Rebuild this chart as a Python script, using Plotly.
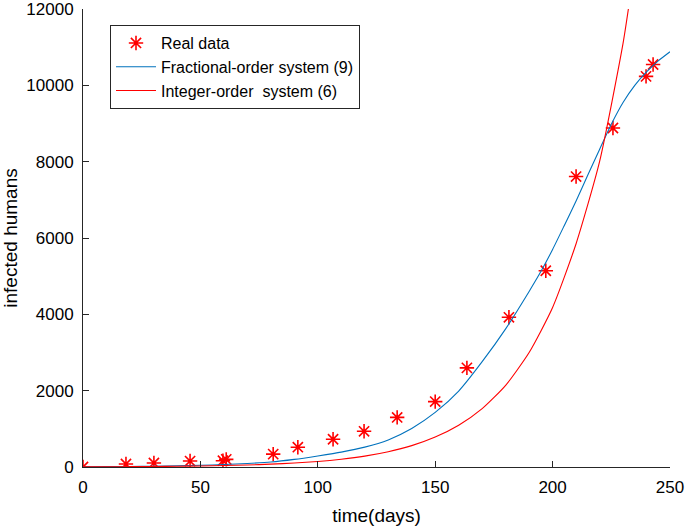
import plotly.graph_objects as go

# Real data
real_days = [0, 18.3, 30.2, 45.6, 59.6, 61, 81, 91.5, 106.5, 119.7, 133.8, 150, 163.5, 181.4, 197.1, 210, 225.7, 239.8, 242.8]
real_infected = [0, 78, 104, 156, 165, 200, 338, 519, 727, 935, 1299, 1714, 2597, 3922, 5143, 7610, 8883, 10234, 10545]

# Fractional-order system (9) curve, read at sample days
frac_days = [0, 10, 20, 30, 40, 50, 60, 70, 80, 90, 100, 110, 120, 130, 140, 150, 160, 170, 180, 190,
             195, 200, 205, 210, 215, 220, 225, 230, 235, 240, 245, 250]
frac_vals = [5, 9, 14, 21, 31, 45, 64, 92, 130, 200, 290, 390, 520, 710, 1010, 1430, 1990, 2760, 3620, 4600,
             5120, 5700, 6330, 6970, 7650, 8320, 8980, 9550, 10000, 10350, 10640, 10880]

# Integer-order system (6) curve, read at sample days
int_days = [0, 10, 20, 30, 40, 50, 60, 70, 80, 90, 100, 110, 120, 130, 140, 150, 160, 170, 180, 190,
            200, 210, 220, 230, 233]
int_vals = [5, 7, 10, 14, 19, 27, 38, 53, 75, 105, 146, 205, 285, 400, 560, 785, 1095, 1530, 2140, 3000,
            4180, 5850, 8000, 11100, 12300]

x_ticks = [0, 50, 100, 150, 200, 250]
y_ticks = [0, 2000, 4000, 6000, 8000, 10000, 12000]

FONT = "Liberation Sans, Arial, Helvetica, sans-serif"
AX = "#262626"

fig = go.Figure()
fig.add_trace(go.Scatter(
    x=real_days, y=real_infected, mode="markers", name="Real data",
    marker=dict(symbol="asterisk-open", size=12, color="#ff0000",
                line=dict(color="#ff0000", width=1.6)),
))
fig.add_trace(go.Scatter(
    x=frac_days, y=frac_vals, mode="lines", name="Fractional-order system (9)",
    line=dict(color="#0072BD", width=1.1, shape="spline", smoothing=0.6),
))
fig.add_trace(go.Scatter(
    x=int_days, y=int_vals, mode="lines", name="Integer-order  system (6)",
    line=dict(color="#ff0000", width=1.1, shape="spline", smoothing=0.6),
))

fig.update_layout(
    width=685, height=526,
    margin=dict(l=83, r=15, t=9, b=59, autoexpand=False),
    paper_bgcolor="white", plot_bgcolor="white",
    font=dict(family=FONT, color="#000000"),
    showlegend=True,
    legend=dict(
        x=0.046, y=0.965, xanchor="left", yanchor="top",
        bgcolor="white", bordercolor=AX, borderwidth=1,
        font=dict(family=FONT, size=16, color="#000000"),
        itemwidth=40, tracegroupgap=0,
    ),
    xaxis=dict(
        range=[0, 250], tickvals=x_ticks, ticks="inside", ticklen=6, tickcolor=AX,
        showline=True, linecolor=AX, linewidth=1, mirror=False,
        showgrid=False, zeroline=False, automargin=False, ticklabeloverflow="allow",
        ticklabelstandoff=5,
        tickfont=dict(size=17, color="#000000"),
        title=dict(text="time(days)", font=dict(size=19, color="#000000"), standoff=12),
    ),
    yaxis=dict(
        range=[0, 12000], tickvals=y_ticks, tickformat="d", ticks="inside", ticklen=6, tickcolor=AX,
        showline=True, linecolor=AX, linewidth=1, mirror=False,
        showgrid=False, zeroline=False, automargin=False, ticklabeloverflow="allow",
        ticklabelstandoff=5,
        tickfont=dict(size=17, color="#000000"),
        title=dict(text="infected humans", font=dict(size=19, color="#000000"), standoff=6),
    ),
)

fig.write_html("out.html", config={"displayModeBar": False},
               post_script="document.body.style.margin='0px';document.body.style.overflow='hidden';")
